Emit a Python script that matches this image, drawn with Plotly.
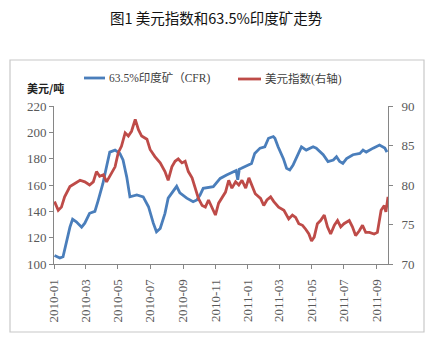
import plotly.graph_objects as go

# ---- data ----
ore_dates = [
    "2010-01-02", "2010-01-12", "2010-01-18", "2010-01-25", "2010-01-31", "2010-02-05",
    "2010-02-12", "2010-02-22", "2010-02-28", "2010-03-09", "2010-03-19", "2010-03-25",
    "2010-04-03", "2010-04-10", "2010-04-16", "2010-04-26", "2010-05-05", "2010-05-11",
    "2010-05-18", "2010-05-24", "2010-06-06", "2010-06-18", "2010-06-28", "2010-07-07",
    "2010-07-13", "2010-07-20", "2010-07-29", "2010-08-04", "2010-08-14", "2010-08-20",
    "2010-08-26", "2010-09-08", "2010-09-20", "2010-09-27", "2010-10-03", "2010-10-09",
    "2010-10-28", "2010-11-10", "2010-11-22", "2010-12-10", "2010-12-13", "2010-12-16",
    "2010-12-20", "2011-01-02", "2011-01-08", "2011-01-14", "2011-01-24", "2011-02-02",
    "2011-02-09", "2011-02-18", "2011-02-21", "2011-02-27", "2011-03-09", "2011-03-15",
    "2011-03-21", "2011-03-27", "2011-04-03", "2011-04-12", "2011-04-21", "2011-05-04",
    "2011-05-10", "2011-05-23", "2011-06-01", "2011-06-11", "2011-06-17", "2011-06-23",
    "2011-06-29", "2011-07-06", "2011-07-18", "2011-07-31", "2011-08-06", "2011-08-12",
    "2011-08-25", "2011-09-06", "2011-09-16", "2011-09-20",
]
ore_price = [
    106.5, 104.5, 105.5, 118, 128, 134,
    132, 128, 131, 138.5, 140, 148,
    161, 174, 185, 186.5, 184, 179,
    166, 151, 152.4, 151, 143.5, 131,
    124.5, 127, 138.5, 150, 156, 159,
    154, 150, 147.3, 148.6, 152.4, 157.5,
    158.7, 165, 167.6, 171, 164, 172,
    172.7, 175, 176.4, 184, 188, 189,
    195.5, 196.8, 195.5, 189, 180, 172.7,
    171.4, 175, 181.5, 189, 186.5, 189,
    188, 183, 177.8, 179, 181.5, 177.8,
    176.4, 180, 183, 184, 186.5, 185,
    188, 190.4, 188, 185,
]

usd_dates = [
    "2010-01-02", "2010-01-09", "2010-01-15", "2010-01-21", "2010-01-31", "2010-02-09",
    "2010-02-19", "2010-02-28", "2010-03-09", "2010-03-16", "2010-03-22", "2010-03-28",
    "2010-04-04", "2010-04-10", "2010-04-16", "2010-04-26", "2010-05-02", "2010-05-08",
    "2010-05-15", "2010-05-21", "2010-05-27", "2010-06-03", "2010-06-09", "2010-06-15",
    "2010-06-25", "2010-07-01", "2010-07-10", "2010-07-20", "2010-07-29", "2010-08-04",
    "2010-08-11", "2010-08-17", "2010-08-23", "2010-08-30", "2010-09-05", "2010-09-11",
    "2010-09-18", "2010-09-24", "2010-09-30", "2010-10-07", "2010-10-13", "2010-10-19",
    "2010-10-25", "2010-11-01", "2010-11-07", "2010-11-13", "2010-11-20", "2010-11-26",
    "2010-12-02", "2010-12-09", "2010-12-15", "2010-12-21", "2010-12-28", "2011-01-03",
    "2011-01-09", "2011-01-15", "2011-01-25", "2011-01-31", "2011-02-06", "2011-02-13",
    "2011-02-19", "2011-02-28", "2011-03-10", "2011-03-19", "2011-03-26", "2011-04-01",
    "2011-04-07", "2011-04-14", "2011-04-20", "2011-04-26", "2011-05-01", "2011-05-06",
    "2011-05-12", "2011-05-18", "2011-05-25", "2011-05-31", "2011-06-06", "2011-06-13",
    "2011-06-19", "2011-06-25", "2011-07-01", "2011-07-11", "2011-07-17", "2011-07-23",
    "2011-07-30", "2011-08-05", "2011-08-11", "2011-08-18", "2011-08-27", "2011-09-02",
    "2011-09-09", "2011-09-15", "2011-09-18", "2011-09-22",
]
usd_index = [
    77.9, 76.8, 77.2, 78.5, 79.8, 80.2,
    80.6, 80.4, 80.0, 80.4, 81.7, 81.1,
    81.3, 80.4, 81.1, 82.3, 84.1, 84.9,
    86.6, 86.2, 86.8, 88.3, 87.0, 86.2,
    85.8, 84.5, 83.6, 82.8, 81.7, 80.6,
    82.3, 83.0, 83.3, 82.8, 83.0, 81.7,
    80.9, 79.6, 78.3, 77.4, 77.2, 78.1,
    77.2, 76.2, 77.7, 78.3, 79.1, 80.6,
    79.6, 80.4, 80.0, 80.6, 79.6, 80.9,
    80.0, 78.9, 78.3, 77.4, 78.1, 78.5,
    77.9, 77.2, 76.8, 75.7, 76.2, 75.9,
    75.1, 74.9, 74.4, 73.8, 72.9, 73.4,
    75.1, 75.5, 76.2, 74.7, 73.8, 74.9,
    75.5, 74.7, 75.1, 75.5, 74.7, 73.6,
    74.2, 74.9, 74.0, 74.0, 73.8, 74.0,
    76.8, 77.4, 76.6, 78.5,
]

tick_vals = ["2010-01-01", "2010-03-01", "2010-05-01", "2010-07-01", "2010-09-01",
             "2010-11-01", "2011-01-01", "2011-03-01", "2011-05-01", "2011-07-01",
             "2011-09-01"]
tick_text = ["2010-01", "2010-03", "2010-05", "2010-07", "2010-09", "2010-11",
             "2011-01", "2011-03", "2011-05", "2011-07", "2011-09"]

series_names = ["63.5%印度矿（CFR)", "美元指数(右轴)"]
colors = ["#4A7EBB", "#BE4B48"]

# ---- layout geometry (pixels) ----
W, H = 438, 346
L, R, T, B = 54, 388, 106, 264


def px(x):
    return (x - L) / (R - L)


def py(y):
    return (B - y) / (B - T)


fig = go.Figure()
fig.add_trace(go.Scatter(x=ore_dates, y=ore_price, mode="lines", name=series_names[0],
                         line=dict(color=colors[0], width=2.8), yaxis="y"))
fig.add_trace(go.Scatter(x=usd_dates, y=usd_index, mode="lines", name=series_names[1],
                         line=dict(color=colors[1], width=2.8), yaxis="y2"))

axis_col = "#868686"
tick_font = dict(family="Liberation Serif, Times New Roman, serif", size=13, color="#595959")

fig.update_layout(
    width=W, height=H,
    margin=dict(l=L, r=W - R, t=T, b=H - B, pad=0),
    paper_bgcolor="white", plot_bgcolor="white",
    showlegend=False,
    xaxis=dict(type="date", range=["2010-01-01", "2011-09-22"], tickmode="array",
               tickvals=tick_vals, ticktext=tick_text, tickangle=-90,
               showgrid=False, zeroline=False, showline=True, linecolor=axis_col,
               linewidth=1, ticks="outside", ticklen=4, tickcolor=axis_col,
               ticklabelstandoff=5,
               tickfont=dict(family="Liberation Serif, Times New Roman, serif", size=13,
                             color="#595959")),
    yaxis=dict(range=[100, 220], dtick=20, tick0=100, showgrid=False, zeroline=False,
               showline=True, linecolor=axis_col, linewidth=1, ticks="outside",
               ticklen=4, tickcolor=axis_col, tickfont=tick_font),
    yaxis2=dict(range=[70, 90], dtick=5, tick0=70, overlaying="y", side="right",
                anchor="x", showgrid=False, zeroline=False, showline=True,
                linecolor=axis_col, linewidth=1, ticks="outside", ticklen=4,
                tickcolor=axis_col, tickfont=tick_font, ticklabelstandoff=6),
)

# outer chart-area border
fig.add_shape(type="rect", xref="paper", yref="paper",
              x0=px(10), x1=px(424), y0=py(332), y1=py(60),
              line=dict(color="#C8C8C8", width=1.2), fillcolor="rgba(0,0,0,0)", layer="below")

# title
fig.add_annotation(text="图1 美元指数和63.5%印度矿走势", xref="paper", yref="paper",
                   x=px(216), y=py(18), xanchor="center", yanchor="middle",
                   showarrow=False,
                   font=dict(family="Noto Sans CJK SC", size=14.5, color="#111111"))

# left axis unit
fig.add_annotation(text="<b>美元/吨</b>", xref="paper", yref="paper",
                   x=px(25), y=py(88), xanchor="left", yanchor="middle",
                   showarrow=False,
                   font=dict(family="Noto Sans CJK SC", size=11, color="#222222"))

# legend (manual, to match the reference placement)
legend_items = [(84, 105, 107, 78), (238, 261, 263, 79)]
for (x0, x1, xt, yl), name, col in zip(legend_items, series_names, colors):
    fig.add_shape(type="line", xref="paper", yref="paper",
                  x0=px(x0), x1=px(x1), y0=py(yl), y1=py(yl),
                  line=dict(color=col, width=2.8))
    fig.add_annotation(text=name, xref="paper", yref="paper",
                       x=px(xt), y=py(yl), xanchor="left", yanchor="middle",
                       showarrow=False,
                       font=dict(family="Liberation Serif, Noto Sans CJK SC", size=11.5,
                                 color="#404040"))

fig.write_html("out.html")
